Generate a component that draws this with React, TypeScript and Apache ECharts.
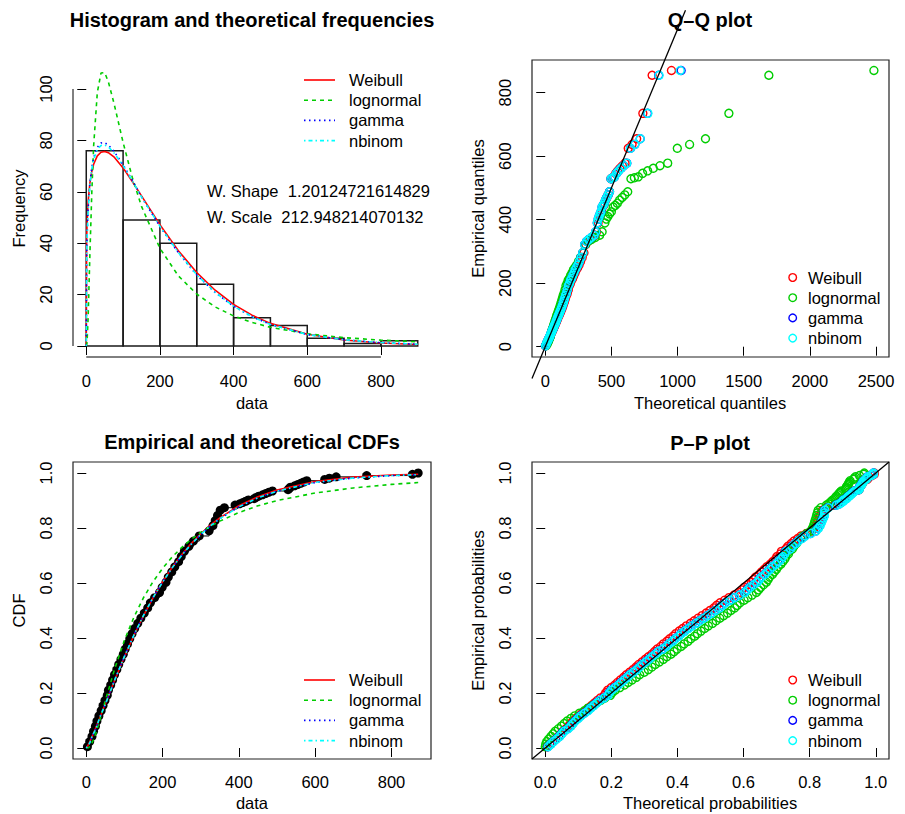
import React, { useEffect, useRef } from "react";
import * as echarts from "echarts";

const FONT = "'Liberation Sans', Arial, Helvetica, sans-serif";
const LS = 16.5;

const distNames = ["Weibull", "lognormal", "gamma", "nbinom"];
const distColors = ["#FF0000", "#00CD00", "#0000FF", "#00FFFF"];
const distDash: (number[] | null)[] = [null, [4, 4], [1.5, 3.5], [1.5, 3, 4, 3]];

// ---------- Histogram ----------
const histBins = [[0, 100], [100, 200], [200, 300], [300, 400], [400, 500], [500, 600], [600, 700], [700, 800], [800, 900]];
const histCounts = [76, 49, 40, 24, 11, 8, 3, 1, 2];
const densX = [0, 1, 2, 5, 10, 15, 20, 30, 40, 50, 60, 75, 100, 125, 150, 200, 250, 300, 350, 400, 450, 500, 600, 700, 800, 900];
const densWeibull = [0, 41, 46.7, 56.1, 63.6, 67.9, 70.7, 74.0, 75.4, 75.7, 75.2, 73.6, 69.3, 64.0, 58.4, 47.2, 37.1, 28.6, 21.7, 16.2, 12.0, 8.8, 4.6, 2.36, 1.17, 0.57];
const densLognormal = [0, 0.1, 1.1, 10.8, 36.3, 59.6, 77.8, 98.6, 106.2, 106.4, 102.8, 94.6, 79.2, 65.6, 54.3, 38.0, 27.3, 20.2, 15.2, 11.7, 9.16, 7.27, 4.76, 3.25, 2.29, 1.66];
const densGamma = [0, 34, 41.9, 53.3, 63.5, 69.4, 73.2, 77.3, 79.0, 79.1, 78.2, 75.8, 70.5, 64.5, 58.0, 46.5, 36.3, 27.6, 20.8, 15.5, 11.4, 8.4, 4.5, 2.4, 1.3, 0.7];
const densNbinom = [0, 33, 41, 52.5, 62.8, 68.8, 72.5, 76.5, 78.0, 78.2, 77.5, 75.2, 70.2, 64.3, 58.0, 46.6, 36.4, 27.7, 20.9, 15.5, 11.4, 8.4, 4.5, 2.4, 1.3, 0.7];
const histXTicks = [0, 200, 400, 600, 800];
const histYTicks = [0, 20, 40, 60, 80, 100];

// ---------- Empirical data (sorted) ----------
const empValues = [3, 9, 15, 19, 24, 28, 33, 39, 44, 49, 55, 58, 64, 69, 74, 80, 85, 91, 97, 102, 108, 114, 120, 127, 135, 143, 152, 161, 168, 179, 192, 199, 209, 215, 224, 232, 242, 249, 257, 269, 281, 296, 322, 332, 338, 344, 351, 362, 390, 402, 410, 418, 425, 440, 445, 452, 462, 470, 478, 488, 529, 532, 535, 546, 554, 562, 570, 578, 625, 637, 655, 735, 855, 870];
const empProb = [0.0047, 0.0234, 0.0421, 0.0607, 0.0794, 0.0981, 0.1168, 0.1355, 0.1542, 0.1729, 0.1916, 0.2103, 0.229, 0.2477, 0.2664, 0.285, 0.3037, 0.3224, 0.3411, 0.3598, 0.3785, 0.3972, 0.4159, 0.4346, 0.4533, 0.472, 0.4907, 0.5093, 0.528, 0.5467, 0.5654, 0.5841, 0.6028, 0.6215, 0.6402, 0.6589, 0.6776, 0.6963, 0.715, 0.7336, 0.7523, 0.771, 0.7897, 0.8084, 0.8271, 0.8458, 0.8645, 0.8738, 0.8832, 0.8879, 0.8925, 0.8972, 0.9019, 0.9065, 0.9112, 0.9159, 0.9206, 0.9252, 0.9299, 0.9346, 0.9393, 0.9439, 0.9486, 0.9533, 0.9579, 0.9626, 0.9673, 0.972, 0.9766, 0.9813, 0.986, 0.9907, 0.9953, 1.0];

// ---------- Q-Q theoretical quantiles ----------
const qqWeibull = [1.4, 8.6, 14.8, 20.5, 26.0, 31.5, 36.9, 42.2, 47.4, 52.7, 58.0, 63.4, 68.7, 74.1, 79.6, 85.1, 90.7, 96.4, 102.1, 108.0, 114.0, 120.1, 126.3, 132.6, 139.1, 145.7, 152.5, 159.6, 166.8, 174.3, 182.0, 190.0, 198.2, 206.7, 215.7, 225.0, 234.8, 245.1, 255.9, 267.3, 279.5, 292.4, 306.5, 321.6, 338.0, 356.1, 376.2, 387.4, 399.2, 405.4, 412.0, 418.7, 425.7, 433.0, 440.7, 448.8, 457.3, 466.2, 475.7, 485.6, 496.3, 507.8, 520.3, 533.5, 548.3, 564.6, 583.0, 603.3, 627.3, 656.0, 690.8, 737.8, 807.9, 954.0];
const qqLognormal = [7.1, 16.2, 21.6, 26.2, 30.4, 34.4, 38.3, 42.1, 45.9, 49.6, 53.5, 57.3, 61.2, 65.2, 69.2, 73.3, 77.6, 82.0, 86.4, 91.0, 95.9, 100.9, 106.0, 111.4, 117.0, 122.9, 129.0, 135.4, 142.1, 149.2, 156.7, 164.7, 173.0, 182.0, 191.5, 201.7, 212.8, 224.6, 237.7, 251.6, 267.2, 284.3, 303.4, 325.0, 349.5, 377.7, 411.0, 429.9, 450.5, 461.9, 473.5, 486.3, 499.6, 513.7, 528.8, 544.9, 562.1, 581.0, 601.1, 623.4, 647.7, 673.7, 703.6, 735.7, 773.9, 816.6, 867.1, 925.5, 998.2, 1091, 1211, 1388, 1690, 2484];
const qqGamma = [1.6, 9.0, 14.2, 19.8, 25.0, 29.8, 35.1, 40.4, 45.6, 50.7, 55.9, 61.0, 66.2, 71.4, 76.6, 81.9, 87.3, 92.7, 98.2, 103.7, 109.4, 115.2, 121.2, 127.3, 133.5, 139.9, 146.4, 153.2, 160.1, 167.3, 174.8, 182.5, 190.5, 198.9, 207.5, 216.6, 226.3, 236.4, 247.2, 258.4, 270.6, 283.7, 297.7, 313.0, 329.8, 348.4, 369.5, 381.0, 393.3, 400.0, 406.6, 414.0, 421.4, 429.2, 437.3, 445.8, 454.9, 464.7, 474.8, 485.8, 497.5, 509.8, 523.6, 537.9, 554.7, 572.8, 593.5, 616.5, 643.9, 677.0, 717.7, 773.0, 857.6, 1027];
const qqNbinom = [2, 9, 14, 20, 25, 30, 35, 40, 46, 51, 56, 61, 66, 71, 77, 82, 87, 93, 98, 104, 109, 115, 121, 127, 134, 140, 146, 153, 160, 167, 175, 183, 191, 199, 208, 217, 226, 236, 247, 258, 271, 284, 298, 313, 330, 348, 369, 381, 393, 400, 407, 414, 421, 429, 437, 446, 455, 465, 475, 486, 497, 510, 524, 538, 555, 573, 593, 616, 644, 677, 718, 776, 860, 1020];
const qqXTicks = [0, 500, 1000, 1500, 2000, 2500];
const qqYTicks = [0, 200, 400, 600, 800];

// ---------- CDF curves ----------
const cdfX = [0, 5, 10, 15, 25, 35, 50, 75, 100, 125, 150, 175, 200, 225, 250, 275, 300, 325, 350, 400, 450, 500, 600, 700, 800, 870];
const cdfWeibull = [0, 0.011, 0.025, 0.0405, 0.0735, 0.108, 0.161, 0.248, 0.332, 0.41, 0.481, 0.5462, 0.604, 0.6564, 0.703, 0.7433, 0.779, 0.8102, 0.837, 0.881, 0.914, 0.938, 0.969, 0.985, 0.9926, 0.9956];
const cdfLognormal = [0, 0.0008, 0.0062, 0.0175, 0.0533, 0.0985, 0.1723, 0.2899, 0.3916, 0.4761, 0.5466, 0.6048, 0.6532, 0.6944, 0.729, 0.7588, 0.784, 0.8062, 0.825, 0.8563, 0.8806, 0.8997, 0.9273, 0.9457, 0.9586, 0.9652];
const cdfGamma = [0, 0.008, 0.021, 0.042, 0.069, 0.111, 0.16, 0.25, 0.334, 0.412, 0.482, 0.547, 0.603, 0.655, 0.7, 0.741, 0.776, 0.807, 0.834, 0.877, 0.91, 0.934, 0.965, 0.982, 0.9905, 0.994];
const cdfNbinom = [0, 0.008, 0.021, 0.042, 0.069, 0.11, 0.159, 0.249, 0.333, 0.411, 0.482, 0.547, 0.603, 0.655, 0.7, 0.741, 0.776, 0.807, 0.834, 0.877, 0.91, 0.934, 0.966, 0.982, 0.9906, 0.994];
const cdfXTicks = [0, 200, 400, 600, 800];
const probTicks = [0, 0.2, 0.4, 0.6, 0.8, 1.0];

// ---------- P-P plot (empirical probabilities and theoretical probabilities) ----------
const ppProb = [
  0.0047, 0.014, 0.0234, 0.0327, 0.0421, 0.0514, 0.0607, 0.0701, 0.0794, 0.0888,
  0.0981, 0.1075, 0.1168, 0.1262, 0.1355, 0.1449, 0.1542, 0.1636, 0.1729, 0.1822,
  0.1916, 0.2009, 0.2103, 0.2196, 0.229, 0.2383, 0.2477, 0.257, 0.2664, 0.2757,
  0.285, 0.2944, 0.3037, 0.3131, 0.3224, 0.3318, 0.3411, 0.3505, 0.3598, 0.3692,
  0.3785, 0.3879, 0.3972, 0.4065, 0.4159, 0.4252, 0.4346, 0.4439, 0.4533, 0.4626,
  0.472, 0.4813, 0.4907, 0.5, 0.5093, 0.5187, 0.528, 0.5374, 0.5467, 0.5561,
  0.5654, 0.5748, 0.5841, 0.5935, 0.6028, 0.6121, 0.6215, 0.6308, 0.6402, 0.6495,
  0.6589, 0.6682, 0.6776, 0.6869, 0.6963, 0.7056, 0.715, 0.7243, 0.7336, 0.743,
  0.7523, 0.7617, 0.771, 0.7804, 0.7897, 0.7991, 0.8084, 0.8178, 0.8271, 0.8364,
  0.8458, 0.8551, 0.8645, 0.8738, 0.8832,
  0.8879, 0.8925, 0.8972, 0.9019, 0.9065, 0.9112, 0.9159, 0.9206, 0.9252, 0.9299,
  0.9346, 0.9393, 0.9439, 0.9486, 0.9533, 0.9579, 0.9626, 0.9673, 0.972, 0.9766,
  0.9813, 0.986, 0.9907, 0.9953, 1.0,
];
const ppWeibull = [
  0.006, 0.014, 0.0221, 0.0317, 0.0404, 0.0474, 0.0534, 0.0621, 0.0701, 0.0768,
  0.0837, 0.0925, 0.101, 0.1112, 0.1221, 0.1299, 0.1397, 0.1486, 0.1573, 0.1672,
  0.1786, 0.1829, 0.1891, 0.1996, 0.2101, 0.2183, 0.2276, 0.237, 0.245, 0.2557,
  0.2654, 0.2744, 0.2824, 0.2931, 0.3024, 0.3118, 0.322, 0.3305, 0.3384, 0.3492,
  0.3575, 0.3679, 0.3763, 0.3865, 0.3948, 0.4052, 0.4157, 0.4269, 0.4392, 0.4506,
  0.462, 0.4743, 0.4868, 0.498, 0.5106, 0.5187, 0.5287, 0.5424, 0.5559, 0.5711,
  0.5865, 0.5948, 0.6022, 0.6135, 0.6238, 0.6301, 0.6363, 0.6468, 0.6544, 0.6625,
  0.6699, 0.6802, 0.6884, 0.6969, 0.7008, 0.7116, 0.7145, 0.7283, 0.7339, 0.744,
  0.7523, 0.7637, 0.7736, 0.7904, 0.8066, 0.8131, 0.8181, 0.8218, 0.8248, 0.8284,
  0.8312, 0.8351, 0.8384, 0.8491, 0.8736,
  0.883, 0.8888, 0.8944, 0.899, 0.9085, 0.9114, 0.9154, 0.9208, 0.9248, 0.9287,
  0.9333, 0.9494, 0.9504, 0.9514, 0.9549, 0.9573, 0.9596, 0.9617, 0.9638, 0.9739,
  0.976, 0.9788, 0.9881, 0.9951, 0.9956,
];
const ppLognormal = [
  0.0001, 0.0015, 0.0046, 0.0105, 0.0175, 0.024, 0.0301, 0.0397, 0.0491, 0.0574,
  0.0662, 0.0777, 0.0891, 0.103, 0.118, 0.1291, 0.1427, 0.1553, 0.1675, 0.1811,
  0.1968, 0.2027, 0.2114, 0.2256, 0.24, 0.2508, 0.2631, 0.2754, 0.2857, 0.2995,
  0.3118, 0.323, 0.3329, 0.3458, 0.3571, 0.3681, 0.3803, 0.39, 0.399, 0.4112,
  0.4203, 0.4319, 0.4409, 0.4519, 0.4606, 0.4715, 0.4823, 0.4937, 0.5059, 0.5171,
  0.528, 0.5399, 0.5515, 0.5619, 0.5733, 0.5806, 0.5894, 0.6015, 0.6131, 0.626,
  0.6387, 0.6456, 0.6516, 0.6607, 0.6689, 0.6739, 0.6788, 0.687, 0.6929, 0.6991,
  0.7047, 0.7125, 0.7186, 0.725, 0.7277, 0.7358, 0.7379, 0.748, 0.752, 0.7593,
  0.7652, 0.7734, 0.7803, 0.7922, 0.8037, 0.8082, 0.8117, 0.8142, 0.8163, 0.8189,
  0.8209, 0.8235, 0.8259, 0.8335, 0.8508,
  0.8574, 0.8617, 0.8659, 0.8693, 0.8763, 0.8784, 0.8816, 0.8857, 0.8888, 0.892,
  0.8955, 0.9089, 0.9099, 0.9107, 0.9139, 0.9161, 0.9182, 0.9203, 0.9222, 0.9327,
  0.935, 0.9384, 0.9507, 0.9639, 0.9652,
];
const ppGamma = [
  0.008, 0.016, 0.0241, 0.0337, 0.0424, 0.0494, 0.0554, 0.0681, 0.0761, 0.0828,
  0.0897, 0.0985, 0.107, 0.1172, 0.1281, 0.1359, 0.1457, 0.1546, 0.1633, 0.1772,
  0.1886, 0.1929, 0.1991, 0.2096, 0.2201, 0.2283, 0.2376, 0.247, 0.255, 0.2657,
  0.2754, 0.2844, 0.2924, 0.3031, 0.3124, 0.3218, 0.332, 0.3405, 0.3544, 0.3652,
  0.3735, 0.3839, 0.3923, 0.4025, 0.4108, 0.4212, 0.4317, 0.4429, 0.4552, 0.4666,
  0.478, 0.4903, 0.5028, 0.514, 0.5266, 0.5347, 0.5447, 0.5584, 0.5719, 0.5871,
  0.6025, 0.6108, 0.6182, 0.6295, 0.6398, 0.6461, 0.6523, 0.6628, 0.6704, 0.6785,
  0.6859, 0.6962, 0.7044, 0.7129, 0.7168, 0.7236, 0.7265, 0.7403, 0.7459, 0.756,
  0.7643, 0.7757, 0.7856, 0.8024, 0.8186, 0.8251, 0.8301, 0.8338, 0.8368, 0.8404,
  0.8432, 0.8438, 0.8444, 0.8551, 0.8796,
  0.889, 0.8948, 0.9004, 0.901, 0.9105, 0.9134, 0.9174, 0.9228, 0.9268, 0.9307,
  0.9353, 0.9484, 0.9494, 0.9504, 0.9539, 0.9563, 0.9586, 0.9607, 0.9628, 0.9699,
  0.972, 0.9748, 0.9851, 0.9925, 0.993,
];
const ppNbinom = [
  0.009, 0.0172, 0.0252, 0.035, 0.0438, 0.0507, 0.0571, 0.0695, 0.0776, 0.0842,
  0.0915, 0.1, 0.1085, 0.1187, 0.1298, 0.1374, 0.1471, 0.1561, 0.165, 0.1787,
  0.19, 0.1944, 0.2008, 0.211, 0.2215, 0.2298, 0.2392, 0.2484, 0.2563, 0.2671,
  0.2772, 0.2858, 0.2938, 0.3046, 0.3141, 0.3233, 0.3333, 0.342, 0.356, 0.3666,
  0.3748, 0.3853, 0.394, 0.4039, 0.4121, 0.4226, 0.4334, 0.4443, 0.4565, 0.468,
  0.4797, 0.4917, 0.5041, 0.5154, 0.5283, 0.536, 0.546, 0.5598, 0.5736, 0.5885,
  0.6038, 0.6122, 0.6199, 0.6309, 0.641, 0.6475, 0.654, 0.6642, 0.6717, 0.6799,
  0.6876, 0.6976, 0.7057, 0.7143, 0.7185, 0.725, 0.7278, 0.7417, 0.7476, 0.7574,
  0.7656, 0.7771, 0.7873, 0.8038, 0.8199, 0.8265, 0.8318, 0.8352, 0.8381, 0.8418,
  0.8449, 0.8452, 0.8457, 0.8568, 0.8809,
  0.8903, 0.8961, 0.9017, 0.9023, 0.9118, 0.9147, 0.9187, 0.9241, 0.9281, 0.932,
  0.9366, 0.9494, 0.9504, 0.9514, 0.9549, 0.9573, 0.9596, 0.9617, 0.9638, 0.9709,
  0.973, 0.9758, 0.9861, 0.9931, 0.9936,
];

const zip = (xs: number[], ys: number[]) => xs.map((x, i) => [x, ys[i]]);

function valueAxis(gridIndex: number, min: number, max: number, ticks: number[], margin: number, isY: boolean, fmt: (v: number) => string) {
  return {
    type: "value",
    gridIndex,
    min,
    max,
    axisLine: { show: false },
    splitLine: { show: false },
    axisTick: { show: true, customValues: ticks, length: 9, lineStyle: { color: "#000", width: 1 } },
    axisLabel: {
      show: true,
      customValues: ticks,
      margin,
      rotate: isY ? 90 : 0,
      fontSize: LS,
      color: "#000",
      fontFamily: FONT,
      formatter: fmt,
    },
  };
}

function txt(text: string, x: number, y: number, opts: any = {}) {
  return {
    type: "text",
    x,
    y,
    rotation: opts.rotation || 0,
    silent: true,
    style: {
      text,
      fill: "#000",
      fontSize: opts.size || LS,
      fontWeight: opts.bold ? "bold" : "normal",
      fontFamily: FONT,
      align: opts.align || "center",
      textAlign: opts.align || "center",
      verticalAlign: "middle",
      textVerticalAlign: "middle",
    },
  };
}

const CIRCLE_BW = 1.4;

export default function App() {
  const ref = useRef<HTMLDivElement>(null);
  useEffect(() => {
    const chart = echarts.init(ref.current!, null, { renderer: "svg" });
    const intFmt = (v: number) => String(v);
    const probFmt = (v: number) => v.toFixed(1);

    const series: any[] = [];

    // ---- Panel 1: histogram ----
    series.push({
      type: "custom",
      xAxisIndex: 0,
      yAxisIndex: 0,
      silent: true,
      clip: false,
      data: histBins.map((b, i) => [b[0], b[1], histCounts[i]]),
      encode: { x: [0, 1], y: 2 },
      renderItem: (params: any, api: any) => {
        const p0 = api.coord([api.value(0), api.value(2)]);
        const p1 = api.coord([api.value(1), 0]);
        return {
          type: "rect",
          shape: { x: p0[0], y: p0[1], width: p1[0] - p0[0], height: p1[1] - p0[1] },
          style: { fill: "none", stroke: "#1a1a1a", lineWidth: 1.5 },
        };
      },
    });
    series.push({
      type: "line", xAxisIndex: 0, yAxisIndex: 0, silent: true, clip: false, symbol: "none",
      data: [[histXTicks[0], -4.28], [histXTicks[histXTicks.length - 1], -4.28]],
      lineStyle: { color: "#000", width: 1 },
    });
    series.push({
      type: "line", xAxisIndex: 0, yAxisIndex: 0, silent: true, clip: false, symbol: "none",
      data: [[-36, histYTicks[0]], [-36, histYTicks[histYTicks.length - 1]]],
      lineStyle: { color: "#000", width: 1 },
    });
    [densWeibull, densLognormal, densGamma, densNbinom].forEach((d, k) => {
      series.push({
        type: "line", name: distNames[k], xAxisIndex: 0, yAxisIndex: 0, silent: true, symbol: "none",
        data: zip(densX, d),
        lineStyle: { color: distColors[k], width: 1.6, type: distDash[k] || "solid" },
      });
    });

    // ---- Panel 2: Q-Q ----
    [qqWeibull, qqLognormal, qqGamma, qqNbinom].forEach((q, k) => {
      series.push({
        type: "scatter", name: distNames[k], xAxisIndex: 1, yAxisIndex: 1, silent: true,
        symbol: "circle", symbolSize: 8,
        data: zip(q, empValues),
        itemStyle: { color: "rgba(0,0,0,0)", borderColor: distColors[k], borderWidth: CIRCLE_BW, opacity: 1 },
      });
    });
    series.push({
      type: "line", xAxisIndex: 1, yAxisIndex: 1, silent: true, clip: false, symbol: "none",
      data: [[-100, -100], [1060, 1060]],
      lineStyle: { color: "#000", width: 1.3 },
    });

    // ---- Panel 3: CDF ----
    series.push({
      type: "line", xAxisIndex: 2, yAxisIndex: 2, silent: true, symbol: "none", step: "end",
      data: zip(empValues, empProb),
      lineStyle: { color: "#000", width: 1 },
    });
    series.push({
      type: "scatter", xAxisIndex: 2, yAxisIndex: 2, silent: true, symbol: "circle", symbolSize: 9,
      data: zip(empValues, empProb),
      itemStyle: { color: "#000", opacity: 1 },
    });
    [cdfWeibull, cdfLognormal, cdfGamma, cdfNbinom].forEach((c, k) => {
      series.push({
        type: "line", name: distNames[k], xAxisIndex: 2, yAxisIndex: 2, silent: true, symbol: "none",
        data: zip(cdfX, c),
        lineStyle: { color: distColors[k], width: 1.6, type: distDash[k] || "solid" },
      });
    });

    // ---- Panel 4: P-P ----
    [ppWeibull, ppLognormal, ppGamma, ppNbinom].forEach((p, k) => {
      series.push({
        type: "scatter", name: distNames[k], xAxisIndex: 3, yAxisIndex: 3, silent: true,
        symbol: "circle", symbolSize: 8,
        data: zip(p, ppProb),
        itemStyle: { color: "rgba(0,0,0,0)", borderColor: distColors[k], borderWidth: CIRCLE_BW, opacity: 1 },
      });
    });
    series.push({
      type: "line", xAxisIndex: 3, yAxisIndex: 3, silent: true, clip: false, symbol: "none",
      data: [[-0.04, -0.04], [1.04, 1.04]],
      lineStyle: { color: "#000", width: 1.3 },
    });

    // ---- graphic: titles, axis names, legends ----
    const g: any[] = [];
    g.push(txt("Histogram and theoretical frequencies", 252, 20, { size: 20, bold: true }));
    g.push(txt("Q–Q plot", 710, 20, { size: 20, bold: true }));
    g.push(txt("Empirical and theoretical CDFs", 252, 442, { size: 20, bold: true }));
    g.push(txt("P–P plot", 710, 443, { size: 20, bold: true }));

    g.push(txt("data", 252, 403));
    g.push(txt("Theoretical quantiles", 710, 403));
    g.push(txt("data", 252, 803));
    g.push(txt("Theoretical probabilities", 710, 803));
    g.push(txt("Frequency", 19, 208.5, { rotation: Math.PI / 2 }));
    g.push(txt("Empirical quantiles", 478, 208.5, { rotation: Math.PI / 2 }));
    g.push(txt("CDF", 19, 610.5, { rotation: Math.PI / 2 }));
    g.push(txt("Empirical probabilities", 478, 610.5, { rotation: Math.PI / 2 }));

    g.push(txt("W. Shape  1.20124721614829", 207, 191, { align: "left" }));
    g.push(txt("W. Scale  212.948214070132", 207, 217, { align: "left" }));

    const lineLegend = (top: number) => {
      distNames.forEach((n, k) => {
        const y = top + k * 20.2;
        g.push({
          type: "line", silent: true,
          shape: { x1: 304, y1: y, x2: 335, y2: y },
          style: { stroke: distColors[k], lineWidth: 1.6, lineDash: distDash[k] || null },
        });
        g.push(txt(n, 349, y, { align: "left" }));
      });
    };
    const pointLegend = (top: number) => {
      distNames.forEach((n, k) => {
        const y = top + k * 20.2;
        g.push({
          type: "circle", silent: true,
          shape: { cx: 792.7, cy: y, r: 3.8 },
          style: { fill: "none", stroke: distColors[k], lineWidth: CIRCLE_BW },
        });
        g.push(txt(n, 808, y, { align: "left" }));
      });
    };
    lineLegend(80);
    pointLegend(277.5);
    lineLegend(680);
    pointLegend(680);

    const option: any = {
      animation: false,
      backgroundColor: "#fff",
      grid: [
        { left: 73, top: 60, width: 358, height: 297, show: false },
        { left: 532, top: 60, width: 357, height: 297, show: true, borderColor: "#222", borderWidth: 1.2, backgroundColor: "transparent" },
        { left: 73, top: 462, width: 358, height: 297, show: true, borderColor: "#222", borderWidth: 1.2, backgroundColor: "transparent" },
        { left: 532, top: 462, width: 357, height: 297, show: true, borderColor: "#222", borderWidth: 1.2, backgroundColor: "transparent" },
      ],
      xAxis: [
        valueAxis(0, -36, 936, histXTicks, 15, false, intFmt),
        valueAxis(1, -100, 2598, qqXTicks, 15, false, intFmt),
        valueAxis(2, -34.8, 903.6, cdfXTicks, 14, false, intFmt),
        valueAxis(3, -0.04, 1.04, probTicks, 14, false, probFmt),
      ],
      yAxis: [
        valueAxis(0, -4.28, 111.28, histYTicks, 19, true, intFmt),
        valueAxis(1, -32.4, 903, qqYTicks, 19, true, intFmt),
        valueAxis(2, -0.04, 1.04, probTicks, 19, true, probFmt),
        valueAxis(3, -0.04, 1.04, probTicks, 19, true, probFmt),
      ],
      series,
      graphic: g,
    };
    chart.setOption(option);
    return () => chart.dispose();
  }, []);
  return (
    <div
      ref={ref}
      style={{ position: "fixed", left: 0, top: 0, width: 905, height: 814, background: "#fff" }}
    />
  );
}
